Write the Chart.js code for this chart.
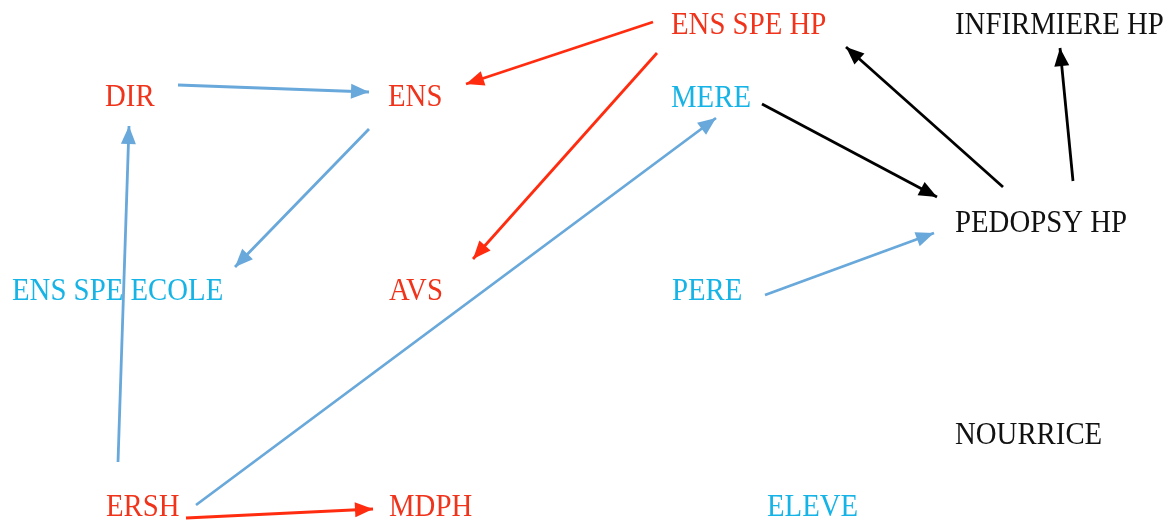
<!DOCTYPE html>
<html>
<head>
<meta charset="utf-8">
<script src="https://cdn.jsdelivr.net/npm/chart.js@4.4.0/dist/chart.umd.min.js"></script>
<style>
  html, body { margin: 0; padding: 0; background: #fff; }
  #wrap { width: 1176px; height: 524px; position: relative; }
</style>
</head>
<body>
<div id="wrap"><canvas id="grafico"></canvas></div>
<script>
// Noeuds (position gauche du texte, milieu vertical)
const nodeLabels = ["ENS SPE HP", "INFIRMIERE HP", "DIR", "ENS", "MERE", "PEDOPSY HP",
  "ENS SPE ECOLE", "AVS", "PERE", "NOURRICE", "ERSH", "MDPH", "ELEVE"];
const nodeX = [671, 955, 105, 388, 671, 955, 12, 389, 672, 955, 106, 389, 767];
const nodeY = [24, 24, 96, 96, 97, 222, 290, 290, 290, 434, 506, 506, 506];
const nodeGroup = ["rouge", "noir", "rouge", "rouge", "bleu", "noir",
  "bleu", "rouge", "bleu", "noir", "rouge", "rouge", "bleu"];

// Fleches : depart (x0,y0) -> pointe (x1,y1)
const edgeX0 = [178, 369, 118, 196, 765, 653, 657, 186, 762, 1003, 1073];
const edgeY0 = [85, 129, 462, 505, 295, 22, 53, 518, 104, 187, 181];
const edgeX1 = [369, 235, 129, 716, 934, 466, 473, 373, 937, 846, 1060];
const edgeY1 = [92, 267, 126, 118, 233, 84, 259, 509, 197, 47, 48];
const edgeGroup = ["bleu", "bleu", "bleu", "bleu", "bleu", "rouge", "rouge", "rouge", "noir", "noir", "noir"];

const couleurTexte = { rouge: "#f0341c", bleu: "#16b4e6", noir: "#111111" };
const couleurFleche = { rouge: "#ff2c10", bleu: "#68a8da", noir: "#000000" };

const datasets = edgeX0.map((x0, i) => ({
  data: [{ x: x0, y: edgeY0[i] }, { x: edgeX1[i], y: edgeY1[i] }],
  showLine: true,
  borderColor: couleurFleche[edgeGroup[i]],
  borderWidth: 2.8,
  pointRadius: 0,
  arrow: true
}));

datasets.push({
  data: nodeX.map((x, i) => ({ x, y: nodeY[i] })),
  showLine: false,
  pointRadius: 0,
  etiquettes: true
});

const flechesPlugin = {
  id: "fleches",
  afterDatasetsDraw(chart) {
    const ctx = chart.ctx;
    chart.data.datasets.forEach((ds, i) => {
      if (!ds.arrow) return;
      const pts = chart.getDatasetMeta(i).data;
      const a = pts[0], b = pts[1];
      const ang = Math.atan2(b.y - a.y, b.x - a.x);
      const len = 18, half = 7.5;
      ctx.save();
      ctx.fillStyle = ds.borderColor;
      ctx.translate(b.x, b.y);
      ctx.rotate(ang);
      ctx.beginPath();
      ctx.moveTo(0, 0);
      ctx.lineTo(-len, -half);
      ctx.lineTo(-len, half);
      ctx.closePath();
      ctx.fill();
      ctx.restore();
    });
  }
};

const etiquettesPlugin = {
  id: "etiquettes",
  afterDatasetsDraw(chart) {
    const ctx = chart.ctx;
    chart.data.datasets.forEach((ds, i) => {
      if (!ds.etiquettes) return;
      chart.getDatasetMeta(i).data.forEach((p, j) => {
        ctx.save();
        ctx.font = "30px 'Liberation Serif', 'DejaVu Serif', serif";
        ctx.textAlign = "left";
        ctx.textBaseline = "middle";
        ctx.fillStyle = couleurTexte[nodeGroup[j]];
        ctx.translate(p.x, p.y + 1);
        ctx.scale(0.96, 1.08);
        ctx.fillText(nodeLabels[j], 0, 0);
        ctx.restore();
      });
    });
  }
};

new Chart(document.getElementById("grafico").getContext("2d"), {
  type: "scatter",
  data: { datasets },
  options: {
    responsive: true,
    maintainAspectRatio: false,
    animation: false,
    layout: { padding: 0 },
    plugins: { legend: { display: false }, tooltip: { enabled: false } },
    scales: {
      x: { type: "linear", min: 0, max: 1176, display: false },
      y: { type: "linear", min: 0, max: 524, reverse: true, display: false }
    }
  },
  plugins: [flechesPlugin, etiquettesPlugin]
});
</script>
</body>
</html>
